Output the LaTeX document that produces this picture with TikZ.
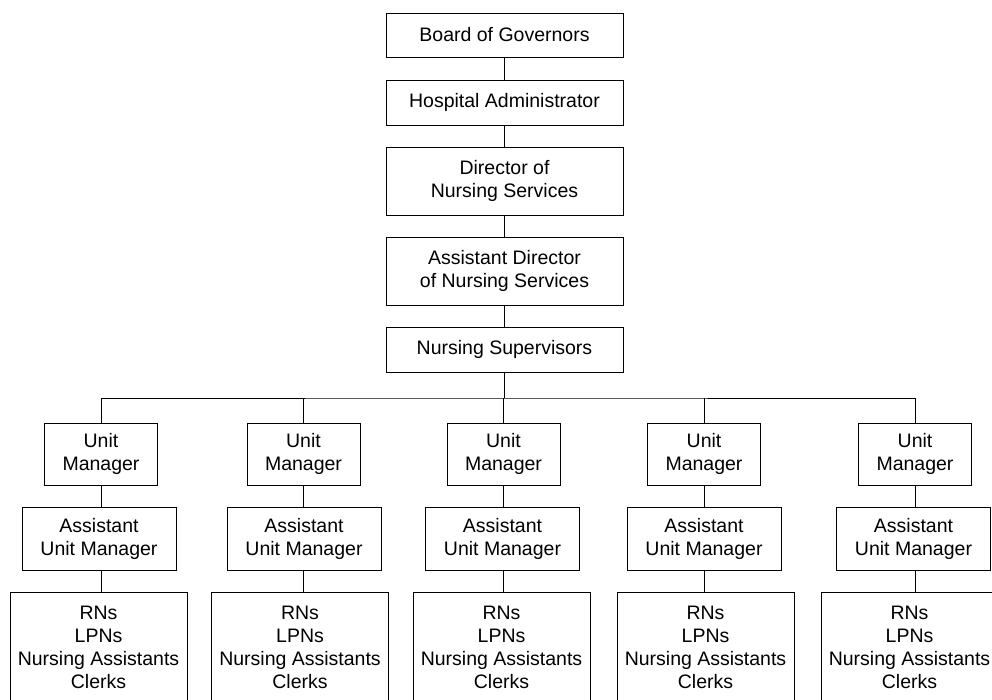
\documentclass[tikz,border=0pt]{standalone}
\usepackage{fontspec}
\setmainfont{Liberation Sans}
\begin{document}
\begin{tikzpicture}[x=1pt,y=-1pt,
  box/.style={draw, line width=0.9pt, align=center, inner sep=0pt,
    font=\fontsize{19.5}{23}\selectfont},
  topbox/.style={box, minimum width=237pt},
  umbox/.style={box, minimum width=113pt, minimum height=62pt},
  aumbox/.style={box, minimum width=154pt, minimum height=63pt},
  staffbox/.style={box, minimum width=177pt, minimum height=110pt},
  link/.style={line width=0.9pt}]
\useasboundingbox (0,0) rectangle (992,699);
\clip (0,0) rectangle (992,699);

% Administrative chain
\node[topbox, minimum height=44pt] (bog) at (504.5,35) {Board of Governors};
\node[topbox, minimum height=45pt] (ha) at (504.5,102.5) {Hospital Administrator};
\node[topbox, minimum height=68pt] (dns) at (504.5,181) {Director of\\Nursing Services};
\node[topbox, minimum height=68pt] (adns) at (504.5,271) {Assistant Director\\of Nursing Services};
\node[topbox, minimum height=45pt] (ns) at (504.5,349.5) {Nursing Supervisors};

\draw[link] (bog) -- (ha);
\draw[link] (ha) -- (dns);
\draw[link] (dns) -- (adns);
\draw[link] (adns) -- (ns);

% Distribution bar
\coordinate (bar) at (504.5,398);
\draw[link] (ns) -- (bar);

% Nursing units: index / manager x / assistant x / staff x
\foreach \i/\xa/\xb/\xc in {1/101/99/98.5, 2/303.5/304/300, 3/503.5/502.5/501.5,
                           4/704/704/705.5, 5/915/913.5/909.5} {
  \node[umbox] (um\i) at (\xa,454) {Unit\\Manager};
  \node[aumbox] (aum\i) at (\xb,538.5) {Assistant\\Unit Manager};
  \node[staffbox] (st\i) at (\xc,647) {RNs\\LPNs\\Nursing Assistants\\Clerks};
  \draw[link] (um\i.south) -- (um\i.south |- aum\i.north);
  \draw[link] (um\i.south |- aum\i.south) -- (um\i.south |- st\i.north);
}
\draw[link] (um1.north) |- (bar) -| (um5.north);
\foreach \i in {2,3,4} {
  \draw[link] (um\i.north) -- (um\i.north |- bar);
}
\end{tikzpicture}
\end{document}
